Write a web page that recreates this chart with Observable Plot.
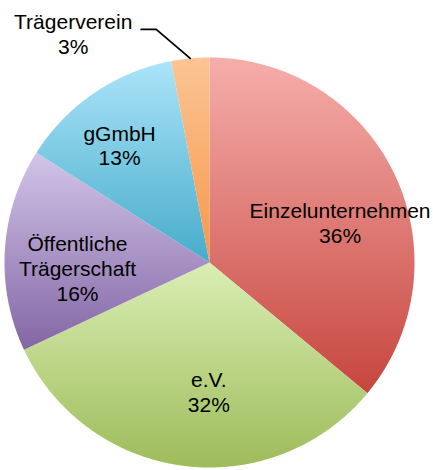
<!DOCTYPE html>
<html><head><meta charset="utf-8">
<script src="https://cdn.jsdelivr.net/npm/d3@7"></script>
<script src="https://cdn.jsdelivr.net/npm/@observablehq/plot@0.6"></script>
<style>body{margin:0;background:#fff}#chart svg{display:block}</style>
</head><body><div id="chart"></div>
<script>
// ---- data ----
const categories = ["Einzelunternehmen", "e.V.", "Öffentliche Trägerschaft", "gGmbH", "Trägerverein"];
const shares = [36, 32, 16, 13, 3];
const labelLines = ["Einzelunternehmen", "e.V.", "Öffentliche\nTrägerschaft", "gGmbH", "Trägerverein"];
const topColors = ["#F6AEAB", "#DAEEB4", "#D2C5E8", "#ABE4F9", "#FBC594"];
const bottomColors = ["#C6463E", "#9DBC5A", "#8366A5", "#46ACCA", "#F7964A"];

// ---- layout ----
const W = 433, H = 470, cx = 209, cy = 262, R = 205;
const labelRadius = 0.65;
const labelNudge = [[10, 17], [16, -3], [1, 14], [-15, -7]];
const leaderElbow = [-34, -29], leaderRun = -15, outsideLabelOffset = [-68, 4];

const total = d3.sum(shares);
let acc = 0;
const slices = categories.map((c, i) => {
  const a0 = acc / total * 2 * Math.PI; acc += shares[i];
  const a1 = acc / total * 2 * Math.PI;
  return {c, i, a0, a1, mid: (a0 + a1) / 2};
});
const polar = (a, r) => ({x: cx + r * Math.sin(a), y: cy - r * Math.cos(a)});
function wedge(s) {
  const pts = [{x: cx, y: cy}];
  const n = Math.max(2, Math.ceil((s.a1 - s.a0) / (Math.PI / 360)));
  for (let k = 0; k <= n; k++) pts.push(polar(s.a0 + (s.a1 - s.a0) * k / n, R));
  pts.push({x: cx, y: cy});
  return pts;
}
const circle = d3.range(0, 721).map(k => polar(k / 720 * 2 * Math.PI, R));

const labels = [];
let leader = [];
slices.forEach((s, i) => {
  const text = labelLines[i] + "\n" + shares[i] + "%";
  if (i < labelNudge.length) {
    const p = polar(s.mid, R * labelRadius);
    labels.push({x: p.x + labelNudge[i][0], y: p.y + labelNudge[i][1], text});
  } else {
    const end = polar(s.mid, R);
    const elbow = {x: end.x + leaderElbow[0], y: end.y + leaderElbow[1]};
    const start = {x: elbow.x + leaderRun, y: elbow.y};
    leader = [start, elbow, end];
    labels.push({x: start.x + outsideLabelOffset[0], y: start.y + outsideLabelOffset[1], text});
  }
});

const marks = [
  Plot.line(circle, {x: "x", y: "y", fill: "#000", fillOpacity: 0.35, stroke: "none", ariaLabel: "pie-shadow"}),
  ...slices.map((s, i) => Plot.line(wedge(s), {x: "x", y: "y", fill: `url(#grad${i})`, stroke: "none", curve: "linear"})),
  Plot.line(leader, {x: "x", y: "y", stroke: "#000", strokeWidth: 1.8}),
  Plot.text(labels, {x: "x", y: "y", text: "text", fontSize: 21, lineHeight: 1.17, fill: "#000",
    fontFamily: "Liberation Sans, Arial, sans-serif", textAnchor: "middle", lineAnchor: "middle"})
];

const svg = Plot.plot({
  width: W, height: H, margin: 0,
  x: {domain: [0, W], range: [0, W], axis: null},
  y: {domain: [0, H], range: [0, H], axis: null},
  style: {background: "#fff"},
  marks
});

const ns = "http://www.w3.org/2000/svg";
const defs = document.createElementNS(ns, "defs");
let html = "";
topColors.forEach((t, i) => {
  html += `<linearGradient id="grad${i}" x1="0" y1="0" x2="0" y2="1"><stop offset="0" stop-color="${t}"/><stop offset="1" stop-color="${bottomColors[i]}"/></linearGradient>`;
});
html += `<filter id="pieShadow" x="-20%" y="-20%" width="140%" height="140%"><feGaussianBlur stdDeviation="3"/><feOffset dx="0" dy="3"/></filter>`;
defs.innerHTML = html;
svg.insertBefore(defs, svg.firstChild);
const sh = svg.querySelector('g[aria-label="pie-shadow"]');
if (sh) sh.setAttribute("filter", "url(#pieShadow)");
document.getElementById("chart").appendChild(svg);
</script>
</body></html>
